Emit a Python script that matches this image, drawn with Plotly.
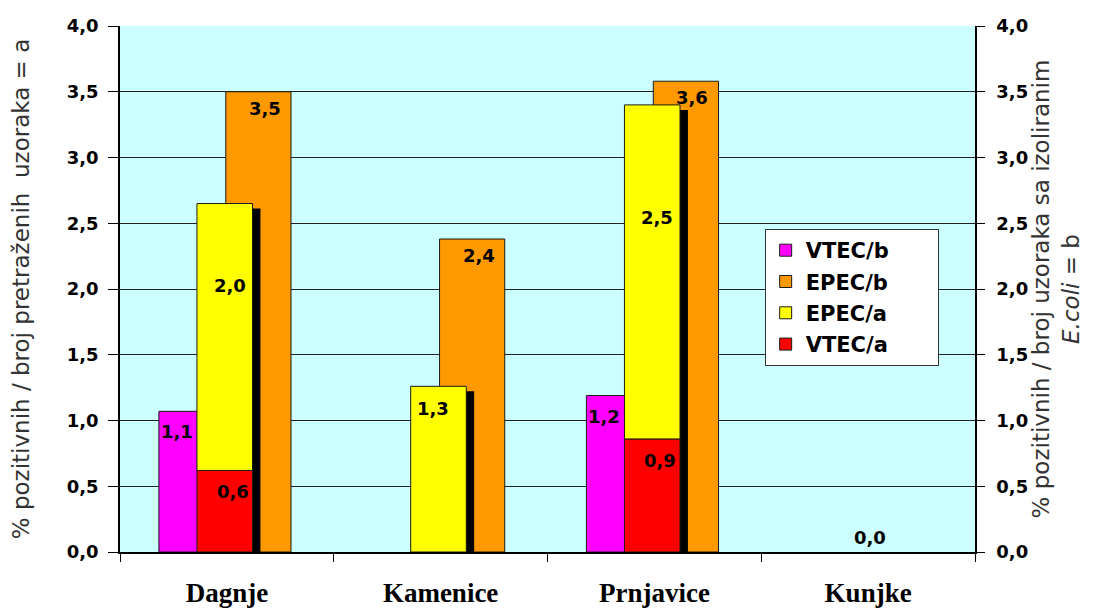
import plotly.graph_objects as go

cats = ["Dagnje", "Kamenice", "Prnjavice", "Kunjke"]
vtec_b = [1.07, 0.0, 1.19, 0.0]
epec_b = [3.5, 2.38, 3.58, 0.0]
vtec_a = [0.62, 0.0, 0.86, 0.0]
epec_a = [2.03, 1.26, 2.54, 0.0]
y_ticks = [0, 0.5, 1, 1.5, 2, 2.5, 3, 3.5, 4]

lbl_font = dict(family="DejaVu Sans", size=18, color="black", weight="bold")
edge = dict(color="#1a1a1a", width=1)
pad = "\u00a0" * 6  # widens the legend box a little


def fmt(v):
    return f"{v:.1f}".replace(".", ",")


def nz(vals):
    # zero bars are not drawn at all
    return [v if v > 0 else None for v in vals]


totals = [a + b for a, b in zip(vtec_a, epec_a)]

fig = go.Figure()

# b series sit behind the stacked a column
fig.add_trace(go.Bar(x=cats, y=nz(vtec_b), name="VTEC/b" + pad, marker=dict(color="#FF00FF", line=edge),
                     offset=-0.318, width=0.313, legendrank=1, legendgroup="g1"))
fig.add_trace(go.Bar(x=cats, y=nz(epec_b), name="EPEC/b" + pad, marker=dict(color="#FF9900", line=edge),
                     offset=-0.005, width=0.305, legendrank=2, legendgroup="g2"))
# shadow of the stacked column
fig.add_trace(go.Bar(x=cats, y=nz([t - 0.038 for t in totals]), marker=dict(color="black", line=dict(width=0)),
                     offset=-0.108, width=0.265, showlegend=False, hoverinfo="skip"))
fig.add_trace(go.Bar(x=cats, y=nz(vtec_a), name="VTEC/a" + pad, marker=dict(color="#FF0000", line=edge),
                     offset=-0.14, width=0.26, legendrank=4, legendgroup="g4"))
fig.add_trace(go.Bar(x=cats, y=nz(epec_a), base=vtec_a, name="EPEC/a" + pad, marker=dict(color="#FFFF00", line=edge),
                     offset=-0.14, width=0.26, legendrank=3, legendgroup="g3"))

# keep the right-hand axis alive
fig.add_trace(go.Scatter(x=[cats[0]], y=[0], yaxis="y2", mode="markers", marker=dict(opacity=0),
                         showlegend=False, hoverinfo="skip"))

anns = []
for i, c in enumerate(cats):
    if vtec_b[i] > 0:
        anns.append(dict(x=c, y=vtec_b[i], text=fmt(vtec_b[i]), xshift=-50, yanchor="top", yshift=-8))
    if vtec_a[i] > 0:
        anns.append(dict(x=c, y=vtec_a[i], text=fmt(vtec_a[i]), xshift=6, yanchor="top", yshift=-9))
    if epec_a[i] > 0:
        if vtec_a[i] > 0:
            anns.append(dict(x=c, y=epec_a[i], text=fmt(epec_a[i]), xshift=3, yanchor="middle"))
        else:
            anns.append(dict(x=c, y=epec_a[i], text=fmt(epec_a[i]), xshift=-8, yanchor="top", yshift=-10))
    if epec_b[i] > 0:
        anns.append(dict(x=c, y=epec_b[i], text=fmt(epec_b[i]), xshift=38, yanchor="top", yshift=-4))
    if vtec_b[i] == 0 and epec_b[i] == 0 and vtec_a[i] == 0 and epec_a[i] == 0:
        anns.append(dict(x=c, y=0, text=fmt(0), xshift=2, yanchor="bottom", yshift=2))
for a in anns:
    a.update(xref="x", yref="y", showarrow=False, font=lbl_font)

tick_font = dict(family="DejaVu Sans", size=18, color="black", weight="bold")
title_font = dict(family="DejaVu Sans", size=23, color="#333333")

fig.update_layout(
    width=1086, height=603,
    margin=dict(l=112, r=119, t=18, b=59),
    barmode="overlay",
    separators=",.",
    plot_bgcolor="#CCFFFF",
    paper_bgcolor="white",
    annotations=anns,
    showlegend=True,
    legend=dict(x=0.754, y=0.614, xanchor="left", yanchor="top",
                bgcolor="white", bordercolor="#333333", borderwidth=1,
                font=dict(family="DejaVu Sans", size=21, color="black", weight="bold"),
                traceorder="grouped", tracegroupgap=1, itemwidth=30),
    xaxis=dict(
        type="category", categoryorder="array", categoryarray=cats,
        tickson="boundaries", ticks="outside", ticklen=8, tickcolor="black",
        showline=True, linecolor="black", linewidth=1.5, automargin=False,
        tickfont=dict(family="Liberation Serif", size=27, color="black", weight="bold"),
        ticklabelstandoff=16, range=[-0.5, 3.5],
    ),
    yaxis=dict(
        range=[0, 4], tickvals=y_ticks, tickformat=".1f",
        ticks="outside", ticklen=10, tickcolor="black", ticklabelstandoff=6,
        showline=True, linecolor="black", linewidth=1.5, automargin=False,
        showgrid=True, gridcolor="#222222", gridwidth=1, zeroline=False,
        tickfont=tick_font,
        title=dict(text="% pozitivnih / broj pretraženih  uzoraka = a", font=title_font, standoff=34),
    ),
    yaxis2=dict(
        overlaying="y", side="right", anchor="x",
        range=[0, 4], tickvals=y_ticks, tickformat=".1f",
        ticks="outside", ticklen=8, tickcolor="black", ticklabelstandoff=8,
        showline=True, linecolor="black", linewidth=1.5, automargin=False,
        showgrid=False, zeroline=False,
        tickfont=tick_font,
        title=dict(text="% pozitivnih / broj uzoraka sa izoliranim<br><i>E.coli</i> = b", font=title_font, standoff=2),
    ),
)

fig.write_html("out.html")
